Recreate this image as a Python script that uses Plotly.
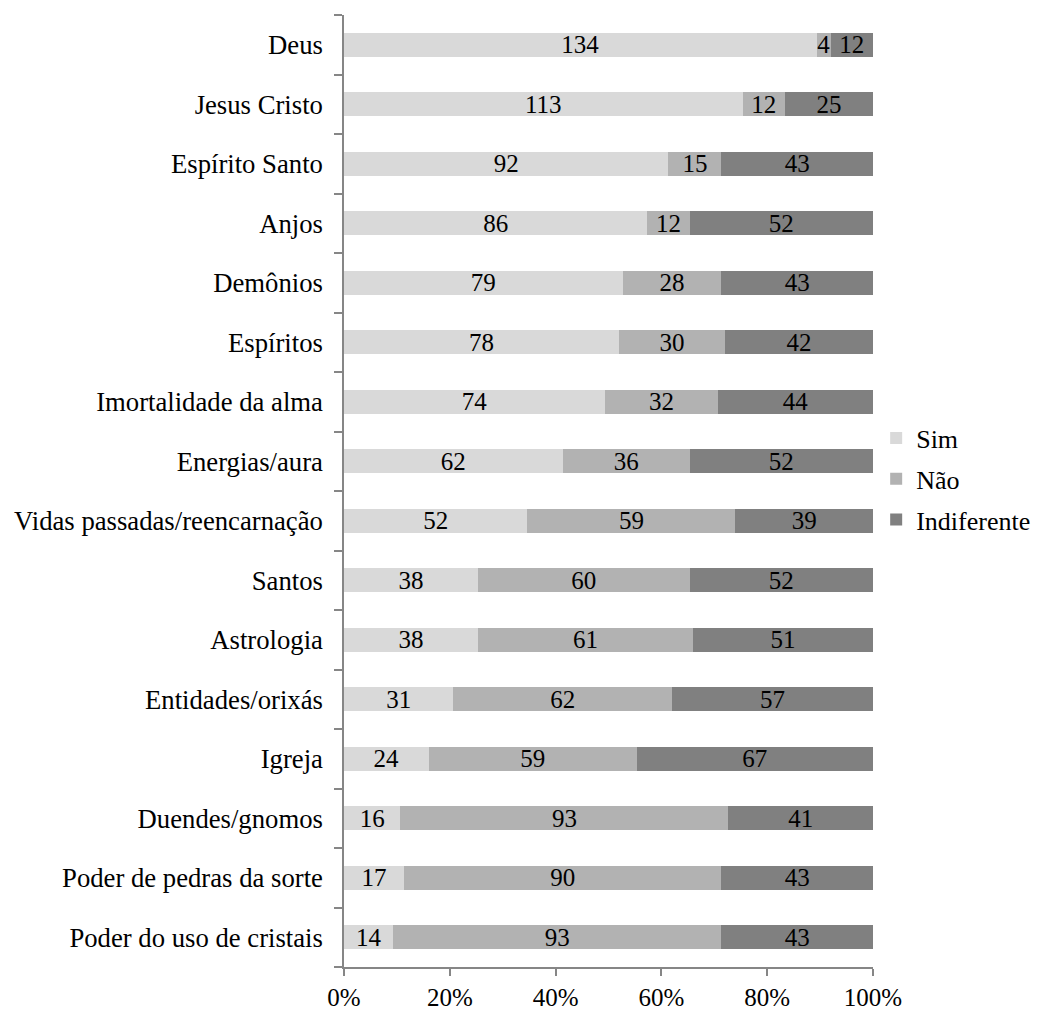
import plotly.graph_objects as go

categories = ["Deus", "Jesus Cristo", "Espírito Santo", "Anjos", "Demônios", "Espíritos",
              "Imortalidade da alma", "Energias/aura", "Vidas passadas/reencarnação", "Santos",
              "Astrologia", "Entidades/orixás", "Igreja", "Duendes/gnomos",
              "Poder de pedras da sorte", "Poder do uso de cristais"]
sim = [134, 113, 92, 86, 79, 78, 74, 62, 52, 38, 38, 31, 24, 16, 17, 14]
nao = [4, 12, 15, 12, 28, 30, 32, 36, 59, 60, 61, 62, 59, 93, 90, 93]
indif = [12, 25, 43, 52, 43, 42, 44, 52, 39, 52, 51, 57, 67, 41, 43, 43]
series_names = ["Sim", "Não", "Indiferente"]
colors = ["#d9d9d9", "#b2b2b2", "#808080"]
tickvals = [0, 20, 40, 60, 80, 100]
ticktext = ["0%", "20%", "40%", "60%", "80%", "100%"]

FONT = "Liberation Serif, Times New Roman, serif"

fig = go.Figure()
for name, vals, col in zip(series_names, [sim, nao, indif], colors):
    fig.add_trace(go.Bar(
        y=categories, x=vals, name=name, orientation="h",
        marker=dict(color=col, line=dict(width=0)),
        text=[str(v) for v in vals], textposition="inside", textangle=0,
        insidetextanchor="middle", constraintext="none",
        textfont=dict(family=FONT, size=25, color="black"),
        legendgroup=name,
        hoverinfo="skip",
    ))

# the page body adds an 8px offset; margins compensate so the plot area
# lands at x 344..873, y 15..967 in the window
fig.update_layout(
    barmode="stack", barnorm="percent", bargap=0.6,
    width=1043, height=1009,
    margin=dict(l=336, r=178, t=7, b=50, autoexpand=False),
    plot_bgcolor="white", paper_bgcolor="white",
    font=dict(family=FONT, size=25, color="black"),
    legend=dict(x=1.006, y=0.5126, yanchor="middle", xanchor="left",
                font=dict(family=FONT, size=26), itemwidth=30,
                tracegroupgap=4, traceorder="grouped"),
    showlegend=True,
)
fig.update_yaxes(
    categoryorder="array", categoryarray=categories[::-1],
    showline=True, linecolor="#868686", linewidth=1.5,
    ticks="outside", ticklen=8, tickcolor="#868686", tickwidth=1.5,
    tickson="boundaries", showgrid=False, ticklabelstandoff=14,
    automargin=False,
    tickfont=dict(family=FONT, size=26.7, color="black"),
)
fig.update_xaxes(
    range=[0, 100], tickvals=tickvals, ticktext=ticktext,
    showline=True, linecolor="#868686", linewidth=1.5,
    ticks="outside", ticklen=7, tickcolor="#868686", tickwidth=1.5,
    showgrid=False, zeroline=False, automargin=False,
    tickfont=dict(family=FONT, size=25, color="black"),
)

fig.write_html("out.html")
